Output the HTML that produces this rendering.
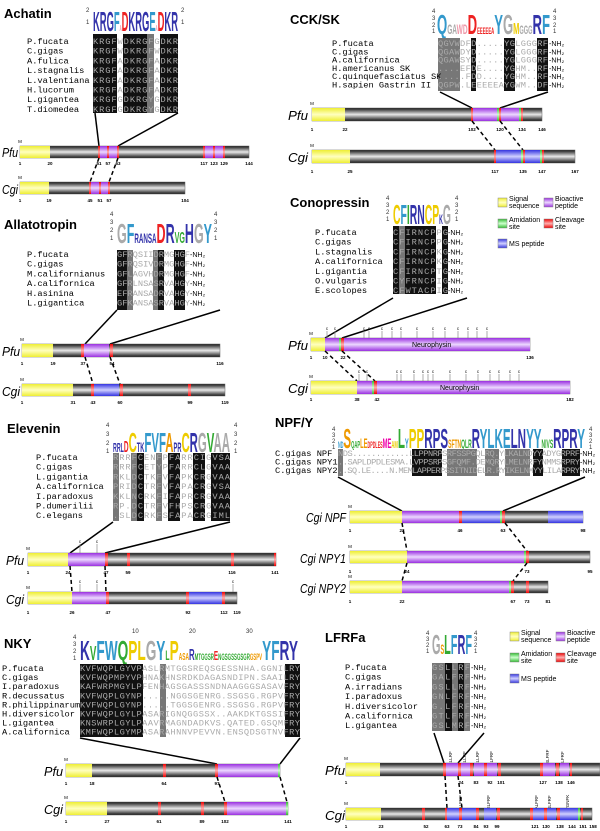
<!DOCTYPE html>
<html><head><meta charset="utf-8"><style>
html,body{margin:0;padding:0;background:#fff}
svg{display:block}
.t{font:bold 13px "Liberation Sans",sans-serif;fill:#000}
.n{font:8.7px "Liberation Mono",monospace;fill:#000}
.a{font:8.7px "Liberation Mono",monospace;fill:#aaa}
.nh{font:7px "Liberation Sans",sans-serif;fill:#000}
.sp{font:italic 13px "Liberation Sans",sans-serif;fill:#000}
.num{font:bold 4.5px "Liberation Sans",sans-serif;fill:#000;text-anchor:middle}
.lg{font:7px "Liberation Sans",sans-serif;fill:#000}
.logo{font:bold 28px "Liberation Sans",sans-serif}
.sc{font:6px "Liberation Sans",sans-serif;fill:#333}
.g{fill:url(#gg);stroke:#666;stroke-width:.5}
.y{fill:url(#gy)}.p{fill:url(#gp)}.b{fill:url(#gb)}.r{fill:url(#gr)}.gn{fill:url(#gn)}
.ln{stroke:#000;stroke-width:1.5}
.ds{stroke:#000;stroke-width:1.5;stroke-dasharray:4,3}
.pin{stroke:#888;stroke-width:.7}
.pl{font:4.5px "Liberation Sans",sans-serif;fill:#000;text-anchor:middle}
.k{fill:#111}.h{fill:#777}
</style></head><body>
<svg width="600" height="831" viewBox="0 0 600 831" xmlns="http://www.w3.org/2000/svg">
<defs>
<linearGradient id="gg" x1="0" y1="0" x2="0" y2="1"><stop offset="0" stop-color="#111"/><stop offset=".5" stop-color="#e8e8e8"/><stop offset="1" stop-color="#111"/></linearGradient>
<linearGradient id="gy" x1="0" y1="0" x2="0" y2="1"><stop offset="0" stop-color="#ee3"/><stop offset=".5" stop-color="#ffffc0"/><stop offset="1" stop-color="#ee3"/></linearGradient>
<linearGradient id="gp" x1="0" y1="0" x2="0" y2="1"><stop offset="0" stop-color="#9a30e0"/><stop offset=".5" stop-color="#ecd8ff"/><stop offset="1" stop-color="#9a30e0"/></linearGradient>
<linearGradient id="gb" x1="0" y1="0" x2="0" y2="1"><stop offset="0" stop-color="#3434e0"/><stop offset=".5" stop-color="#d0d0ff"/><stop offset="1" stop-color="#3434e0"/></linearGradient>
<linearGradient id="gr" x1="0" y1="0" x2="0" y2="1"><stop offset="0" stop-color="#e00"/><stop offset=".5" stop-color="#ffb0b0"/><stop offset="1" stop-color="#e00"/></linearGradient>
<linearGradient id="gn" x1="0" y1="0" x2="0" y2="1"><stop offset="0" stop-color="#3b3"/><stop offset=".5" stop-color="#cfc"/><stop offset="1" stop-color="#3b3"/></linearGradient>
</defs>

<!-- ================= ACHATIN ================= -->
<text class="t" x="4" y="18">Achatin</text>
<text class="logo" x="93" y="31" textLength="85" lengthAdjust="spacingAndGlyphs"><tspan fill="#33a">KRG</tspan><tspan fill="#39c">F</tspan><tspan fill="#e9a" font-size="8">A</tspan><tspan fill="#e22">D</tspan><tspan fill="#33a">KRG</tspan><tspan fill="#39c">E</tspan><tspan fill="#e9a" font-size="8">A</tspan><tspan fill="#e22">D</tspan><tspan fill="#33a">KR</tspan></text>
<text class="sc" x="86" y="12">2</text><text class="sc" x="86" y="24">1</text><text class="sc" x="181" y="12">2</text><text class="sc" x="181" y="24">1</text>
<rect class="k" x="93" y="34" width="24" height="79"/><rect class="k" x="123" y="34" width="24" height="79"/><rect class="h" x="147" y="34" width="7" height="79"/><rect class="k" x="160" y="34" width="18" height="79"/>
<g class="n"><text x="27" y="44">P.fucata</text><text x="27" y="53.7">C.gigas</text><text x="27" y="63.4">A.fulica</text><text x="27" y="73.1">L.stagnalis</text><text x="27" y="82.8">L.valentiana</text><text x="27" y="92.5">H.lucorum</text><text x="27" y="102.2">L.gigantea</text><text x="27" y="111.9">T.diomedea</text></g>
<g class="a"><text x="93" y="44" textLength="85">KRGFWDKRGFGDKR</text><text x="93" y="53.7" textLength="85">KRGFWDKRGFWDKR</text><text x="93" y="63.4" textLength="85">KRGFADKRGFADKR</text><text x="93" y="73.1" textLength="85">KRGFADKRGFADKR</text><text x="93" y="82.8" textLength="85">KRGFADKRGFADKR</text><text x="93" y="92.5" textLength="85">KRGFADKRGFADKR</text><text x="93" y="102.2" textLength="85">KRGFGDKRGYGDKR</text><text x="93" y="111.9" textLength="85">KRGFGDKRGYGDKR</text></g>
<line class="ln" x1="95" y1="113" x2="99" y2="146"/><line class="ln" x1="178" y1="113" x2="118" y2="146"/>
<text class="sp" x="2" y="157" textLength="16" lengthAdjust="spacingAndGlyphs">Pfu</text><text class="pl" x="20" y="143">M</text>
<rect class="g" x="20" y="146" width="229" height="12"/><rect class="y" x="20" y="146" width="30" height="12"/>
<rect class="p" x="99" y="146" width="19" height="12"/><rect class="p" x="204" y="146" width="20" height="12"/>
<rect class="r" x="98" y="146" width="2" height="12"/><rect class="r" x="107" y="146" width="2" height="12"/><rect class="r" x="117" y="146" width="2" height="12"/><rect class="r" x="203" y="146" width="2" height="12"/><rect class="r" x="213" y="146" width="2" height="12"/><rect class="r" x="223" y="146" width="2" height="12"/>
<g class="num"><text x="20" y="165">1</text><text x="50" y="165">20</text><text x="99" y="165">51</text><text x="108" y="165">57</text><text x="118" y="165">63</text><text x="204" y="165">117</text><text x="214" y="165">123</text><text x="224" y="165">129</text><text x="249" y="165">144</text></g>
<line class="ds" x1="99" y1="158" x2="90" y2="182"/><line class="ds" x1="118" y1="158" x2="109" y2="182"/>
<text class="sp" x="2" y="194" textLength="16" lengthAdjust="spacingAndGlyphs">Cgi</text><text class="pl" x="20" y="179">M</text>
<rect class="g" x="20" y="182" width="165" height="12"/><rect class="y" x="20" y="182" width="29" height="12"/>
<rect class="p" x="90" y="182" width="19" height="12"/>
<rect class="r" x="89" y="182" width="2" height="12"/><rect class="r" x="99" y="182" width="2" height="12"/><rect class="r" x="108" y="182" width="2" height="12"/>
<g class="num"><text x="20" y="202">1</text><text x="49" y="202">19</text><text x="90" y="202">45</text><text x="100" y="202">51</text><text x="109" y="202">57</text><text x="185" y="202">104</text></g>

<!-- ================= ALLATOTROPIN ================= -->
<text class="t" x="4" y="229">Allatotropin</text>
<text class="logo" x="117" y="243" textLength="95" lengthAdjust="spacingAndGlyphs"><tspan fill="#aaa">G</tspan><tspan fill="#39c">F</tspan><tspan fill="#33a" font-size="14">RANSA</tspan><tspan fill="#e22">D</tspan><tspan fill="#33a">R</tspan><tspan fill="#3a3" font-size="16">VG</tspan><tspan fill="#33a">H</tspan><tspan fill="#aaa">G</tspan><tspan fill="#39c">Y</tspan></text>
<text class="sc" x="110" y="216">4</text><text class="sc" x="110" y="224">3</text><text class="sc" x="110" y="232">2</text><text class="sc" x="110" y="240">1</text>
<text class="sc" x="214" y="216">4</text><text class="sc" x="214" y="224">3</text><text class="sc" x="214" y="232">2</text><text class="sc" x="214" y="240">1</text>
<rect class="k" x="117" y="250" width="10" height="60"/><rect class="h" x="127" y="250" width="6" height="60"/><rect class="h" x="153" y="250" width="5" height="60"/><rect class="k" x="158" y="250" width="6" height="60"/><rect class="k" x="174" y="250" width="11" height="60"/>
<g class="n"><text x="27" y="257">P.fucata</text><text x="27" y="266.7">C.gigas</text><text x="27" y="276.4">M.californianus</text><text x="27" y="286.1">A.californica</text><text x="27" y="295.8">H.asinina</text><text x="27" y="305.5">L.gigantica</text></g>
<g class="a"><text x="117" y="257" textLength="73">GFRQSIIDRMGHGF</text><text x="117" y="266.7" textLength="73">GFRQSIVDRMGHGF</text><text x="117" y="276.4" textLength="73">GFLAGVHDRMGHGF</text><text x="117" y="286.1" textLength="73">GFRLNSASRVAHGY</text><text x="117" y="295.8" textLength="73">EFRANSADRVAHGY</text><text x="117" y="305.5" textLength="73">GFKANSASRVAHGY</text></g>
<g class="nh"><text x="190" y="257">-NH₂</text><text x="190" y="266.7">-NH₂</text><text x="190" y="276.4">-NH₂</text><text x="190" y="286.1">-NH₂</text><text x="190" y="295.8">-NH₂</text><text x="190" y="305.5">-NH₂</text></g>
<line class="ln" x1="117" y1="310" x2="85" y2="344"/><line class="ln" x1="220" y1="310" x2="110" y2="344"/>
<text class="sp" x="2" y="356" textLength="18" lengthAdjust="spacingAndGlyphs">Pfu</text><text class="pl" x="22" y="341">M</text>
<rect class="g" x="22" y="344" width="198" height="13"/><rect class="y" x="22" y="344" width="31" height="13"/><rect class="p" x="84" y="344" width="25" height="13"/>
<rect class="r" x="81" y="344" width="3" height="13"/><rect class="r" x="110" y="344" width="3" height="13"/>
<g class="num"><text x="22" y="365">1</text><text x="53" y="365">19</text><text x="83" y="365">37</text><text x="112" y="365">54</text><text x="220" y="365">116</text></g>
<line class="ds" x1="85" y1="357" x2="93" y2="384"/><line class="ds" x1="110" y1="357" x2="120" y2="384"/>
<text class="sp" x="2" y="396" textLength="18" lengthAdjust="spacingAndGlyphs">Cgi</text><text class="pl" x="22" y="381">M</text>
<rect class="g" x="22" y="384" width="203" height="12"/><rect class="y" x="22" y="384" width="51" height="12"/><rect class="b" x="94" y="384" width="25" height="12"/>
<rect class="r" x="91" y="384" width="3" height="12"/><rect class="r" x="120" y="384" width="3" height="12"/><rect class="r" x="188" y="384" width="3" height="12"/>
<g class="num"><text x="22" y="404">1</text><text x="73" y="404">31</text><text x="93" y="404">43</text><text x="120" y="404">60</text><text x="190" y="404">99</text><text x="225" y="404">119</text></g>

<!-- ================= ELEVENIN ================= -->
<text class="t" x="7" y="433">Elevenin</text>
<text class="logo" x="113" y="452" textLength="117" lengthAdjust="spacingAndGlyphs"><tspan fill="#33a" font-size="13">RRL</tspan><tspan fill="#e22" font-size="16">D</tspan><tspan fill="#ec0">C</tspan><tspan fill="#33a" font-size="14">TK</tspan><tspan fill="#39c">FV</tspan><tspan fill="#39c">F</tspan><tspan fill="#e90">A</tspan><tspan fill="#33a" font-size="14">PR</tspan><tspan fill="#ec0">C</tspan><tspan fill="#33a">R</tspan><tspan fill="#aaa">G</tspan><tspan fill="#3a3">V</tspan><tspan fill="#aaa">AA</tspan></text>
<text class="sc" x="106" y="427">4</text><text class="sc" x="106" y="436">3</text><text class="sc" x="106" y="445">2</text><text class="sc" x="106" y="453">1</text>
<text class="sc" x="234" y="427">4</text><text class="sc" x="234" y="436">3</text><text class="sc" x="234" y="445">2</text><text class="sc" x="234" y="453">1</text>
<rect class="h" x="113" y="453" width="6" height="68"/><rect class="h" x="131" y="453" width="6" height="68"/><rect class="k" x="137" y="453" width="7" height="68"/><rect class="h" x="156" y="453" width="6" height="68"/><rect class="k" x="168" y="453" width="12" height="68"/><rect class="k" x="193" y="453" width="12" height="68"/><rect class="k" x="211" y="453" width="19" height="68"/>
<g class="n"><text x="36" y="460">P.fucata</text><text x="36" y="469.7">C.gigas</text><text x="36" y="479.4">L.gigantia</text><text x="36" y="489.1">A.californica</text><text x="36" y="498.8">I.paradoxus</text><text x="36" y="508.5">P.dumerilii</text><text x="36" y="518.2">C.elegans</text></g>
<g class="a"><text x="113" y="460" textLength="117">RRRFCENFPFARRCIGVSA</text><text x="113" y="469.7" textLength="117">RRRFCETYPFARRCLGVAA</text><text x="113" y="479.4" textLength="117">RKLDCTKFVFAPKCRGVAA</text><text x="113" y="489.1" textLength="117">PRIDCTRFVFAPACRGVSA</text><text x="113" y="498.8" textLength="117">KKLNCRKFIFAPRCRGVAA</text><text x="113" y="508.5" textLength="117">RP.DCTRFVFHPSCRGVAA</text><text x="113" y="518.2" textLength="117">.SLDCRKFSFAPACRGIML</text></g>
<line class="ln" x1="113" y1="522" x2="70" y2="553"/><line class="ln" x1="230" y1="522" x2="105" y2="553"/>
<line class="pin" x1="80" y1="544" x2="80" y2="553"/><line class="pin" x1="97" y1="544" x2="97" y2="553"/><text class="pl" x="80" y="543">c</text><text class="pl" x="97" y="543">c</text>
<text class="sp" x="6" y="565" textLength="18" lengthAdjust="spacingAndGlyphs">Pfu</text><text class="pl" x="28" y="550">M</text>
<rect class="g" x="28" y="553" width="248" height="13"/><rect class="y" x="28" y="553" width="40" height="13"/><rect class="p" x="68" y="553" width="37" height="13"/>
<rect class="r" x="105" y="553" width="3" height="13"/><rect class="r" x="127" y="553" width="3" height="13"/><rect class="r" x="231" y="553" width="3" height="13"/><rect class="r" x="274" y="553" width="2" height="13"/>
<g class="num"><text x="28" y="574">1</text><text x="68" y="574">24</text><text x="106" y="574">47</text><text x="128" y="574">59</text><text x="232" y="574">116</text><text x="275" y="574">141</text></g>
<line class="ds" x1="70" y1="566" x2="72" y2="592"/><line class="ds" x1="105" y1="566" x2="106" y2="592"/>
<line class="pin" x1="80" y1="584" x2="80" y2="592"/><line class="pin" x1="97" y1="584" x2="97" y2="592"/><line class="pin" x1="233" y1="584" x2="233" y2="592"/><text class="pl" x="80" y="583">c</text><text class="pl" x="97" y="583">c</text><text class="pl" x="233" y="583">c</text>
<text class="sp" x="6" y="604" textLength="18" lengthAdjust="spacingAndGlyphs">Cgi</text><text class="pl" x="28" y="589">M</text>
<rect class="g" x="28" y="592" width="209" height="12"/><rect class="y" x="28" y="592" width="44" height="12"/><rect class="p" x="72" y="592" width="34" height="12"/><rect class="b" x="189" y="592" width="33" height="12"/>
<rect class="r" x="106" y="592" width="3" height="12"/><rect class="r" x="186" y="592" width="3" height="12"/><rect class="r" x="222" y="592" width="3" height="12"/>
<g class="num"><text x="28" y="614">1</text><text x="72" y="614">26</text><text x="108" y="614">47</text><text x="188" y="614">92</text><text x="224" y="614">112</text><text x="237" y="614">119</text></g>

<!-- ================= NKY ================= -->
<text class="t" x="4" y="648">NKY</text>
<text class="logo" x="80" y="660" textLength="218" lengthAdjust="spacingAndGlyphs"><tspan fill="#33a">K</tspan><tspan fill="#3a3" font-size="20">V</tspan><tspan fill="#39c">FW</tspan><tspan fill="#3a3">Q</tspan><tspan fill="#ec0">PL</tspan><tspan fill="#aaa">G</tspan><tspan fill="#39c">Y</tspan><tspan fill="#3a3" font-size="14">L</tspan><tspan fill="#ec0">P</tspan><tspan fill="#e90" font-size="10">ASA</tspan><tspan fill="#33a" font-size="16">R</tspan><tspan fill="#3a3" font-size="9">MTGGSR</tspan><tspan fill="#e22" font-size="13">E</tspan><tspan fill="#3a3" font-size="9">NGSGSSGSGR</tspan><tspan fill="#e90" font-size="9">GSPV</tspan><tspan fill="#39c">Y</tspan><tspan fill="#39c">F</tspan><tspan fill="#33a">RY</tspan></text>
<text class="sc" x="73" y="639">4</text><text class="sc" x="73" y="646">3</text><text class="sc" x="73" y="653">2</text><text class="sc" x="73" y="660">1</text>
<text class="sc" x="132" y="633">10</text><text class="sc" x="189" y="633">20</text><text class="sc" x="246" y="633">30</text>
<rect class="k" x="80" y="664" width="63" height="73"/><rect class="h" x="160" y="664" width="6" height="73"/><rect class="k" x="285" y="664" width="15" height="73"/>
<g class="n"><text x="2" y="671">P.fucata</text><text x="2" y="680.1">C.gigas</text><text x="2" y="689.2">I.paradoxus</text><text x="2" y="698.3">R.decussatus</text><text x="2" y="707.4">R.philippinarum</text><text x="2" y="716.5">H.diversicolor</text><text x="2" y="725.6">L.gigantea</text><text x="2" y="734.7">A.californica</text></g>
<g class="a"><text x="80" y="671" textLength="220">KVFWQPLGYVPASLRMTGGSREQSGESSNHA.GGNILRY</text><text x="80" y="680.1" textLength="220">KVFWQPMPYVPHNAKHNSRDKDAGASNDIPN.SAAILRY</text><text x="80" y="689.2" textLength="220">KAFWRPMGYLPFENHAGSGASSSNDNAAGGGSASAVFRY</text><text x="80" y="698.3" textLength="220">KVFWQPLGYNP.....NGGSGENRG.SSGSG.RGPVFRY</text><text x="80" y="707.4" textLength="220">KVFWQPLGYNP.....TGGSGENRG.SSGSG.RGPVFRY</text><text x="80" y="716.5" textLength="220">KVFWQPLGYLPASARIGNQGGSSX..AAKDKTGSSIFRY</text><text x="80" y="725.6" textLength="220">KNSWRPLGYLPAAVRMAGNDADKVS.QATED.GSQMFRY</text><text x="80" y="734.7" textLength="220">KMFWQPLGYMPASARAHNNVPEVVN.ENSQDSGTNVFRY</text></g>
<line class="ln" x1="80" y1="738" x2="217" y2="764"/><line class="ln" x1="300" y1="738" x2="280" y2="764"/>
<text class="sp" x="44" y="776" textLength="19" lengthAdjust="spacingAndGlyphs">Pfu</text><text class="pl" x="66" y="761">M</text>
<rect class="g" x="66" y="764" width="214" height="13"/><rect class="y" x="66" y="764" width="26" height="13"/><rect class="p" x="218" y="764" width="62" height="13"/>
<rect class="r" x="163" y="764" width="3" height="13"/><rect class="r" x="215" y="764" width="3" height="13"/><rect class="gn" x="278" y="764" width="2" height="13"/>
<g class="num"><text x="66" y="785">1</text><text x="92" y="785">18</text><text x="164" y="785">64</text><text x="217" y="785">97</text></g>
<line class="ds" x1="217" y1="777" x2="225" y2="802"/><line class="ds" x1="280" y1="777" x2="287" y2="802"/>
<text class="sp" x="44" y="814" textLength="19" lengthAdjust="spacingAndGlyphs">Cgi</text><text class="pl" x="66" y="799">M</text>
<rect class="g" x="66" y="802" width="222" height="13"/><rect class="y" x="66" y="802" width="41" height="13"/><rect class="p" x="226" y="802" width="62" height="13"/>
<rect class="r" x="158" y="802" width="3" height="13"/><rect class="r" x="201" y="802" width="3" height="13"/><rect class="r" x="224" y="802" width="3" height="13"/><rect class="gn" x="286" y="802" width="2" height="13"/>
<g class="num"><text x="66" y="823">1</text><text x="107" y="823">27</text><text x="159" y="823">61</text><text x="202" y="823">89</text><text x="225" y="823">102</text><text x="288" y="823">141</text></g>

<!-- ================= CCK/SK ================= -->
<text class="t" x="290" y="24">CCK/SK</text>
<text class="logo" x="437" y="34" textLength="113" lengthAdjust="spacingAndGlyphs"><tspan fill="#39c">Q</tspan><tspan fill="#aaa" font-size="14">GA</tspan><tspan fill="#e9a" font-size="14">WD</tspan><tspan fill="#e22">D</tspan><tspan fill="#e22" font-size="9">EEEEEA</tspan><tspan fill="#39c">Y</tspan><tspan fill="#aaa">G</tspan><tspan fill="#ec0" font-size="16">M</tspan><tspan fill="#aaa" font-size="12">GGG</tspan><tspan fill="#33a">R</tspan><tspan fill="#39c">F</tspan></text>
<text class="sc" x="432" y="13">4</text><text class="sc" x="432" y="20">3</text><text class="sc" x="432" y="27">2</text><text class="sc" x="432" y="33">1</text>
<text class="sc" x="553" y="13">4</text><text class="sc" x="553" y="20">3</text><text class="sc" x="553" y="27">2</text><text class="sc" x="553" y="33">1</text>
<rect class="h" x="438" y="38" width="22" height="53"/><rect class="k" x="471" y="38" width="5" height="53"/><rect class="k" x="504" y="38" width="11" height="53"/><rect class="k" x="537" y="38" width="11" height="53"/>
<g class="n"><text x="332" y="46">P.fucata</text><text x="332" y="54.3">C.gigas</text><text x="332" y="62.6">A.californica</text><text x="332" y="70.9">H.americanus SK</text><text x="332" y="79.2">C.quinquefasciatus SK</text><text x="332" y="87.5">H.sapien Gastrin II</text></g>
<g class="a"><text x="438" y="46" textLength="110">QGVWDFD.....YGLGGGRF</text><text x="438" y="54.3" textLength="110">QGAWDYD.....YGLGGGRF</text><text x="438" y="62.6" textLength="110">QGAWSYD.....YGLGGGRF</text><text x="438" y="70.9" textLength="110">....EFDE....YGHM..RF</text><text x="438" y="79.2" textLength="110">.....FDD....YGHM..RF</text><text x="438" y="87.5" textLength="110">QGPW.LEEEEEAYGWM..DF</text></g>
<g class="nh"><text x="549" y="46">-NH₂</text><text x="549" y="54.3">-NH₂</text><text x="549" y="62.6">-NH₂</text><text x="549" y="70.9">-NH₂</text><text x="549" y="79.2">-NH₂</text><text x="549" y="87.5">-NH₂</text></g>
<line class="ln" x1="440" y1="92" x2="472" y2="108"/><line class="ln" x1="548" y1="92" x2="500" y2="108"/>
<text class="sp" x="288" y="120" textLength="20" lengthAdjust="spacingAndGlyphs">Pfu</text><text class="pl" x="312" y="105">M</text>
<rect class="g" x="312" y="108" width="230" height="13"/><rect class="y" x="312" y="108" width="33" height="13"/><rect class="p" x="472" y="108" width="48" height="13"/>
<rect class="r" x="471" y="108" width="2" height="13"/><rect class="gn" x="497" y="108" width="2" height="13"/><rect class="r" x="499" y="108" width="2" height="13"/><rect class="gn" x="519" y="108" width="2" height="13"/><rect class="r" x="521" y="108" width="2" height="13"/>
<g class="num"><text x="312" y="131">1</text><text x="345" y="131">22</text><text x="472" y="131">102</text><text x="500" y="131">120</text><text x="522" y="131">134</text><text x="542" y="131">146</text></g>
<line class="ds" x1="472" y1="121" x2="495" y2="150"/><line class="ds" x1="500" y1="121" x2="523" y2="150"/>
<text class="sp" x="288" y="162" textLength="20" lengthAdjust="spacingAndGlyphs">Cgi</text><text class="pl" x="312" y="147">M</text>
<rect class="g" x="312" y="150" width="263" height="13"/><rect class="y" x="312" y="150" width="38" height="13"/><rect class="b" x="496" y="150" width="45" height="13"/>
<rect class="r" x="494" y="150" width="2" height="13"/><rect class="gn" x="521" y="150" width="2" height="13"/><rect class="r" x="523" y="150" width="2" height="13"/><rect class="gn" x="540" y="150" width="2" height="13"/><rect class="r" x="542" y="150" width="2" height="13"/>
<g class="num"><text x="312" y="173">1</text><text x="350" y="173">25</text><text x="495" y="173">117</text><text x="523" y="173">135</text><text x="542" y="173">147</text><text x="575" y="173">167</text></g>

<!-- ================= CONOPRESSIN ================= -->
<text class="t" x="290" y="207">Conopressin</text>
<text class="logo" x="393" y="224" textLength="58" lengthAdjust="spacingAndGlyphs"><tspan fill="#ec0">C</tspan><tspan fill="#39c">F</tspan><tspan fill="#3a3">I</tspan><tspan fill="#33a">RN</tspan><tspan fill="#ec0">CP</tspan><tspan fill="#33a" font-size="14">K</tspan><tspan fill="#aaa">G</tspan></text>
<text class="sc" x="386" y="200">4</text><text class="sc" x="386" y="207">3</text><text class="sc" x="386" y="214">2</text><text class="sc" x="386" y="221">1</text>
<text class="sc" x="455" y="200">4</text><text class="sc" x="455" y="207">3</text><text class="sc" x="455" y="214">2</text><text class="sc" x="455" y="221">1</text>
<rect class="k" x="393" y="226" width="55" height="68"/><rect class="h" x="399" y="226" width="6" height="68"/><rect fill="#fff" x="436" y="226" width="6" height="68"/>
<g class="n"><text x="315" y="235">P.fucata</text><text x="315" y="244.7">C.gigas</text><text x="315" y="254.4">L.stagnalis</text><text x="315" y="264.1">A.californica</text><text x="315" y="273.8">L.gigantia</text><text x="315" y="283.5">O.vulgaris</text><text x="315" y="293.2">E.scolopes</text></g>
<g class="a"><text x="393" y="235" textLength="55">CFIRNCPPG</text><text x="393" y="244.7" textLength="55">CFIRNCPPG</text><text x="393" y="254.4" textLength="55">CFIRNCPKG</text><text x="393" y="264.1" textLength="55">CFIRNCPKG</text><text x="393" y="273.8" textLength="55">CFIRNCPTG</text><text x="393" y="283.5" textLength="55">CYFRNCPIG</text><text x="393" y="293.2" textLength="55">CFWTACPIG</text></g>
<g class="nh"><text x="448" y="235">-NH₂</text><text x="448" y="244.7">-NH₂</text><text x="448" y="254.4">-NH₂</text><text x="448" y="264.1">-NH₂</text><text x="448" y="273.8">-NH₂</text><text x="448" y="283.5">-NH₂</text><text x="448" y="293.2">-NH₂</text></g>
<rect class="y" x="498" y="198" width="9" height="9" stroke="#888" stroke-width=".5"/><text class="lg" x="509" y="201">Signal</text><text class="lg" x="509" y="208">sequence</text>
<rect class="p" x="544" y="198" width="9" height="9" stroke="#888" stroke-width=".5"/><text class="lg" x="555" y="201">Bioactive</text><text class="lg" x="555" y="208">peptide</text>
<rect class="gn" x="498" y="219" width="9" height="9" stroke="#888" stroke-width=".5"/><text class="lg" x="509" y="222">Amidation</text><text class="lg" x="509" y="229">site</text>
<rect class="r" x="544" y="219" width="9" height="9" stroke="#888" stroke-width=".5"/><text class="lg" x="555" y="222">Cleavage</text><text class="lg" x="555" y="229">site</text>
<rect class="b" x="498" y="239" width="9" height="9" stroke="#888" stroke-width=".5"/><text class="lg" x="509" y="246">MS peptide</text>
<line class="ln" x1="393" y1="298" x2="325" y2="338"/><line class="ln" x1="467" y1="298" x2="342" y2="338"/>
<g class="pin"><line x1="327" y1="331" x2="327" y2="338"/><line x1="335" y1="331" x2="335" y2="338"/><line x1="364" y1="331" x2="364" y2="338"/><line x1="369" y1="331" x2="369" y2="338"/><line x1="382" y1="331" x2="382" y2="338"/><line x1="392" y1="331" x2="392" y2="338"/><line x1="401" y1="331" x2="401" y2="338"/><line x1="417" y1="331" x2="417" y2="338"/><line x1="433" y1="331" x2="433" y2="338"/><line x1="445" y1="331" x2="445" y2="338"/><line x1="458" y1="331" x2="458" y2="338"/><line x1="468" y1="331" x2="468" y2="338"/><line x1="477" y1="331" x2="477" y2="338"/><line x1="487" y1="331" x2="487" y2="338"/></g>
<g class="pl"><text x="327" y="330">c</text><text x="335" y="330">c</text><text x="364" y="330">c</text><text x="369" y="330">c</text><text x="382" y="330">c</text><text x="392" y="330">c</text><text x="401" y="330">c</text><text x="417" y="330">c</text><text x="433" y="330">c</text><text x="445" y="330">c</text><text x="458" y="330">c</text><text x="468" y="330">c</text><text x="477" y="330">c</text><text x="487" y="330">c</text></g>
<text class="sp" x="288" y="350" textLength="20" lengthAdjust="spacingAndGlyphs">Pfu</text><text class="pl" x="311" y="335">M</text>
<rect class="g" x="311" y="338" width="219" height="13"/><rect class="y" x="311" y="338" width="14" height="13"/><rect class="p" x="325" y="338" width="205" height="13"/>
<rect class="gn" x="339" y="338" width="2" height="13"/><rect class="r" x="341" y="338" width="3" height="13"/>
<text class="lg" x="412" y="347">Neurophysin</text>
<g class="num"><text x="311" y="359">1</text><text x="325" y="359">10</text><text x="343" y="359">22</text><text x="530" y="359">136</text></g>
<line class="ds" x1="325" y1="351" x2="357" y2="381"/><line class="ds" x1="342" y1="351" x2="375" y2="381"/>
<g class="pin"><line x1="359" y1="374" x2="359" y2="381"/><line x1="367" y1="374" x2="367" y2="381"/><line x1="397" y1="374" x2="397" y2="381"/><line x1="401" y1="374" x2="401" y2="381"/><line x1="414" y1="374" x2="414" y2="381"/><line x1="423" y1="374" x2="423" y2="381"/><line x1="428" y1="374" x2="428" y2="381"/><line x1="433" y1="374" x2="433" y2="381"/><line x1="450" y1="374" x2="450" y2="381"/><line x1="466" y1="374" x2="466" y2="381"/><line x1="478" y1="374" x2="478" y2="381"/><line x1="490" y1="374" x2="490" y2="381"/><line x1="499" y1="374" x2="499" y2="381"/><line x1="510" y1="374" x2="510" y2="381"/><line x1="519" y1="374" x2="519" y2="381"/></g>
<g class="pl"><text x="359" y="373">c</text><text x="367" y="373">c</text><text x="397" y="373">c</text><text x="401" y="373">c</text><text x="414" y="373">c</text><text x="423" y="373">c</text><text x="428" y="373">c</text><text x="433" y="373">c</text><text x="450" y="373">c</text><text x="466" y="373">c</text><text x="478" y="373">c</text><text x="490" y="373">c</text><text x="499" y="373">c</text><text x="510" y="373">c</text><text x="519" y="373">c</text></g>
<text class="sp" x="288" y="393" textLength="20" lengthAdjust="spacingAndGlyphs">Cgi</text><text class="pl" x="311" y="378">M</text>
<rect class="g" x="311" y="381" width="259" height="13"/><rect class="y" x="311" y="381" width="46" height="13"/><rect class="p" x="357" y="381" width="213" height="13"/>
<rect class="gn" x="372" y="381" width="2" height="13"/><rect class="r" x="374" y="381" width="3" height="13"/>
<text class="lg" x="440" y="390">Neurophysin</text>
<g class="num"><text x="311" y="401">1</text><text x="357" y="401">38</text><text x="377" y="401">42</text><text x="570" y="401">182</text></g>

<!-- ================= NPF/Y ================= -->
<text class="t" x="275" y="427">NPF/Y</text>
<text class="logo" x="338" y="448" textLength="247" lengthAdjust="spacingAndGlyphs" font-size="20"><tspan fill="#39c" font-size="9">ND</tspan><tspan fill="#e90">S</tspan><tspan fill="#3a3" font-size="10">QAP</tspan><tspan fill="#e90" font-size="14">LE</tspan><tspan fill="#e22" font-size="9">DPDLES</tspan><tspan fill="#e0a" font-size="14">ME</tspan><tspan fill="#ec0" font-size="10">AM</tspan><tspan fill="#3a3">L</tspan><tspan fill="#39c" font-size="14">Y</tspan><tspan fill="#ec0">PP</tspan><tspan fill="#33a">RPS</tspan><tspan fill="#e90" font-size="12">SFTN</tspan><tspan fill="#3a3" font-size="12">QLR</tspan><tspan fill="#33a">R</tspan><tspan fill="#39c">YLKE</tspan><tspan fill="#33a">LN</tspan><tspan fill="#39c">YY</tspan><tspan fill="#3a3" font-size="12">NIVS</tspan><tspan fill="#33a">RPR</tspan><tspan fill="#39c">Y</tspan></text>
<text class="sc" x="332" y="431">4</text><text class="sc" x="332" y="437">3</text><text class="sc" x="332" y="443">2</text><text class="sc" x="332" y="449">1</text>
<text class="sc" x="589" y="431">4</text><text class="sc" x="589" y="437">3</text><text class="sc" x="589" y="443">2</text><text class="sc" x="589" y="449">1</text>
<rect class="h" x="338" y="449" width="5" height="27"/><rect class="k" x="412" y="449" width="5" height="27"/><rect class="k" x="417" y="449" width="25" height="27"/><rect class="h" x="447" y="449" width="30" height="27"/><rect class="h" x="485" y="449" width="14" height="27"/><rect class="h" x="505" y="449" width="25" height="27"/><rect class="k" x="533" y="449" width="10" height="27"/><rect class="k" x="562" y="449" width="18" height="27"/>
<g class="n"><text x="275" y="456">C.gigas NPF</text><text x="275" y="464.5">C.gigas NPY1</text><text x="275" y="473">C.gigas NPY2</text></g>
<g class="a" font-size="7.5"><text x="338" y="456" textLength="242">NDS............LLPPNRPSRFSSPGQLRQ.YLKALNDYYADYGRPRF</text><text x="338" y="464.5" textLength="242">..SAPLDPDLESMA.LVPPSRPSGFQMF.DEMQRYLMELNRFYNMMSRPRY</text><text x="338" y="473" textLength="242">..SQ.LE....N.MEMLAPPERPSSITNIDELR.RYIKELNMYYLILARPRY</text></g>
<g class="nh"><text x="580" y="456">-NH₂</text><text x="580" y="464.5">-NH₂</text><text x="580" y="473">-NH₂</text></g>
<line class="ln" x1="338" y1="477" x2="402" y2="511"/><line class="ln" x1="585" y1="477" x2="503" y2="511"/>
<text class="sp" x="306" y="522" textLength="40" lengthAdjust="spacingAndGlyphs">Cgi NPF</text><text class="pl" x="350" y="508">M</text>
<rect class="g" x="350" y="511" width="233" height="12"/><rect class="y" x="350" y="511" width="52" height="12"/><rect class="p" x="402" y="511" width="58" height="12"/><rect class="b" x="462" y="511" width="38" height="12"/><rect class="b" x="548" y="511" width="35" height="12"/>
<rect class="r" x="459" y="511" width="3" height="12"/><rect class="gn" x="500" y="511" width="2" height="12"/><rect class="r" x="502" y="511" width="3" height="12"/>
<g class="num"><text x="350" y="532">1</text><text x="402" y="532">22</text><text x="460" y="532">46</text><text x="503" y="532">63</text><text x="583" y="532">98</text></g>
<line class="ds" x1="402" y1="523" x2="407" y2="551"/><line class="ds" x1="505" y1="523" x2="527" y2="551"/>
<text class="sp" x="300" y="563" textLength="46" lengthAdjust="spacingAndGlyphs">Cgi NPY1</text><text class="pl" x="350" y="548">M</text>
<rect class="g" x="350" y="551" width="240" height="12"/><rect class="y" x="350" y="551" width="57" height="12"/><rect class="p" x="407" y="551" width="118" height="12"/>
<rect class="gn" x="524" y="551" width="2" height="12"/><rect class="r" x="526" y="551" width="3" height="12"/>
<g class="num"><text x="350" y="573">1</text><text x="407" y="573">24</text><text x="527" y="573">73</text><text x="590" y="573">95</text></g>
<line class="ds" x1="407" y1="563" x2="402" y2="581"/><line class="ds" x1="527" y1="563" x2="513" y2="581"/>
<text class="sp" x="300" y="593" textLength="46" lengthAdjust="spacingAndGlyphs">Cgi NPY2</text><text class="pl" x="350" y="578">M</text>
<rect class="g" x="350" y="581" width="198" height="12"/><rect class="y" x="350" y="581" width="52" height="12"/><rect class="p" x="402" y="581" width="108" height="12"/>
<rect class="gn" x="509" y="581" width="2" height="12"/><rect class="r" x="511" y="581" width="3" height="12"/><rect class="r" x="526" y="581" width="3" height="12"/>
<g class="num"><text x="350" y="603">1</text><text x="402" y="603">22</text><text x="513" y="603">67</text><text x="527" y="603">73</text><text x="548" y="603">81</text></g>

<!-- ================= LFRFa ================= -->
<text class="t" x="325" y="642">LFRFa</text>
<text class="logo" x="432" y="654" textLength="40" lengthAdjust="spacingAndGlyphs"><tspan fill="#aaa">G</tspan><tspan fill="#e90" font-size="14">S</tspan><tspan fill="#3a3">L</tspan><tspan fill="#39c">F</tspan><tspan fill="#33a">R</tspan><tspan fill="#39c">F</tspan></text>
<text class="sc" x="426" y="635">4</text><text class="sc" x="426" y="641">3</text><text class="sc" x="426" y="647">2</text><text class="sc" x="426" y="653">1</text>
<text class="sc" x="474" y="635">4</text><text class="sc" x="474" y="641">3</text><text class="sc" x="474" y="647">2</text><text class="sc" x="474" y="653">1</text>
<rect class="h" x="432" y="663" width="13" height="68"/><rect class="k" x="445" y="663" width="7" height="68"/><rect class="h" x="452" y="663" width="6" height="68"/><rect class="k" x="458" y="663" width="6" height="68"/><rect class="h" x="464" y="663" width="6" height="68"/>
<g class="n"><text x="345" y="670">P.fucata</text><text x="345" y="679.7">C.gigas</text><text x="345" y="689.4">A.irradians</text><text x="345" y="699.1">I.paradoxus</text><text x="345" y="708.8">H.diversicolor</text><text x="345" y="718.5">A.californica</text><text x="345" y="728.2">L.gigantea</text></g>
<g class="a"><text x="432" y="670" textLength="38">GSLLRF</text><text x="432" y="679.7" textLength="38">GALFRF</text><text x="432" y="689.4" textLength="38">GSLLRF</text><text x="432" y="699.1" textLength="38">GNLFRF</text><text x="432" y="708.8" textLength="38">G.LFRF</text><text x="432" y="718.5" textLength="38">GTLFRF</text><text x="432" y="728.2" textLength="38">GSLMRF</text></g>
<g class="nh"><text x="471" y="670">-NH₂</text><text x="471" y="679.7">-NH₂</text><text x="471" y="689.4">-NH₂</text><text x="471" y="699.1">-NH₂</text><text x="471" y="708.8">-NH₂</text><text x="471" y="718.5">-NH₂</text><text x="471" y="728.2">-NH₂</text></g>
<rect class="y" x="510" y="632" width="9" height="9" stroke="#888" stroke-width=".5"/><text class="lg" x="521" y="635">Signal</text><text class="lg" x="521" y="642">sequence</text>
<rect class="p" x="556" y="632" width="9" height="9" stroke="#888" stroke-width=".5"/><text class="lg" x="567" y="635">Bioactive</text><text class="lg" x="567" y="642">peptide</text>
<rect class="gn" x="510" y="653" width="9" height="9" stroke="#888" stroke-width=".5"/><text class="lg" x="521" y="656">Amidation</text><text class="lg" x="521" y="663">site</text>
<rect class="r" x="556" y="653" width="9" height="9" stroke="#888" stroke-width=".5"/><text class="lg" x="567" y="656">Cleavage</text><text class="lg" x="567" y="663">site</text>
<rect class="b" x="510" y="674" width="9" height="9" stroke="#888" stroke-width=".5"/><text class="lg" x="521" y="681">MS peptide</text>
<line class="ln" x1="434" y1="733" x2="444" y2="763"/><line class="ln" x1="484" y1="733" x2="458" y2="763"/>
<g class="pl" font-size="4"><text transform="translate(452,760) rotate(-90)">GSLLRF</text><text transform="translate(466,760) rotate(-90)">GSLLRF</text><text transform="translate(479,760) rotate(-90)">GSLLRF</text><text transform="translate(493,760) rotate(-90)">GSLFRF</text><text transform="translate(549,760) rotate(-90)">GASLFRF</text><text transform="translate(564,760) rotate(-90)">SSLFRF</text>
<text transform="translate(462,804) rotate(-90)">GALFRF</text><text transform="translate(490,804) rotate(-90)">GSLFRF</text><text transform="translate(538,804) rotate(-90)">GALFRF</text><text transform="translate(551,804) rotate(-90)">SSLFRF</text><text transform="translate(569,804) rotate(-90)">SVGNFK</text></g>
<text class="sp" x="325" y="775" textLength="20" lengthAdjust="spacingAndGlyphs">Pfu</text><text class="pl" x="346" y="760">M</text>
<rect class="g" x="346" y="763" width="254" height="13"/><rect class="y" x="346" y="763" width="34" height="13"/>
<rect class="p" x="446" y="763" width="12" height="13"/><rect class="p" x="461" y="763" width="9" height="13"/><rect class="p" x="474" y="763" width="10" height="13"/><rect class="p" x="487" y="763" width="10" height="13"/><rect class="p" x="543" y="763" width="12" height="13"/><rect class="p" x="560" y="763" width="9" height="13"/>
<rect class="r" x="443" y="763" width="3" height="13"/><rect class="r" x="458" y="763" width="3" height="13"/><rect class="r" x="470" y="763" width="3" height="13"/><rect class="r" x="484" y="763" width="3" height="13"/><rect class="r" x="498" y="763" width="3" height="13"/><rect class="r" x="540" y="763" width="3" height="13"/><rect class="r" x="556" y="763" width="3" height="13"/><rect class="r" x="570" y="763" width="2" height="13"/>
<g class="num"><text x="346" y="784">1</text><text x="461" y="784">24</text><text x="476" y="784">83</text><text x="490" y="784">92</text><text x="501" y="784">101</text><text x="543" y="784">127</text><text x="559" y="784">138</text><text x="571" y="784">146</text></g>
<line class="ds" x1="445" y1="776" x2="447" y2="808"/><line class="ds" x1="458" y1="776" x2="462" y2="808"/>
<text class="sp" x="325" y="820" textLength="20" lengthAdjust="spacingAndGlyphs">Cgi</text><text class="pl" x="346" y="805">M</text>
<rect class="g" x="346" y="808" width="246" height="12"/><rect class="y" x="346" y="808" width="35" height="12"/>
<rect class="b" x="447" y="808" width="12" height="12"/><rect class="b" x="462" y="808" width="14" height="12"/><rect class="b" x="484" y="808" width="12" height="12"/><rect class="b" x="533" y="808" width="11" height="12"/><rect class="b" x="547" y="808" width="9" height="12"/><rect class="b" x="560" y="808" width="18" height="12"/>
<rect class="r" x="422" y="808" width="3" height="12"/><rect class="r" x="445" y="808" width="2" height="12"/><rect class="r" x="459" y="808" width="3" height="12"/><rect class="r" x="476" y="808" width="3" height="12"/><rect class="r" x="497" y="808" width="3" height="12"/><rect class="r" x="530" y="808" width="3" height="12"/><rect class="r" x="544" y="808" width="3" height="12"/><rect class="r" x="557" y="808" width="3" height="12"/><rect class="gn" x="578" y="808" width="2" height="12"/><rect class="r" x="581" y="808" width="2" height="12"/>
<g class="num"><text x="346" y="828">1</text><text x="381" y="828">23</text><text x="426" y="828">52</text><text x="447" y="828">63</text><text x="460" y="828">73</text><text x="476" y="828">84</text><text x="486" y="828">93</text><text x="497" y="828">99</text><text x="535" y="828">121</text><text x="546" y="828">130</text><text x="560" y="828">138</text><text x="572" y="828">144</text><text x="583" y="828">151</text><text x="593" y="828">158</text></g>
</svg>
</body></html>
